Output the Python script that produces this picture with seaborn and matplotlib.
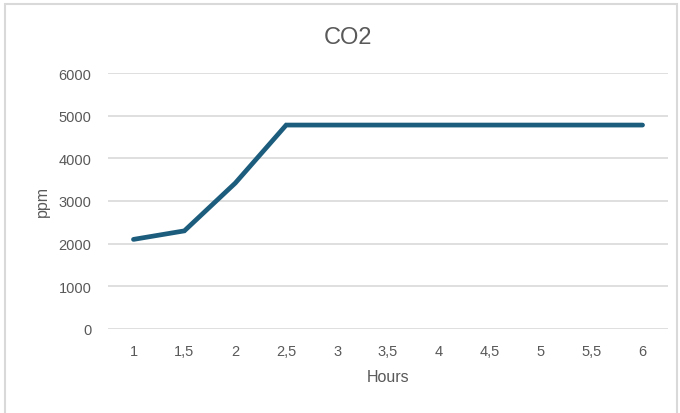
import seaborn as sns
import matplotlib.pyplot as plt
import pandas as pd
from matplotlib.patches import Rectangle

# Data
hours = ['1', '1,5', '2', '2,5', '3', '3,5', '4', '4,5', '5', '5,5', '6']
co2_ppm = [2100, 2300, 3420, 4780, 4780, 4780, 4780, 4780, 4780, 4780, 4780]
y_ticks = [0, 1000, 2000, 3000, 4000, 5000, 6000]

df = pd.DataFrame({'Hours': hours, 'ppm': co2_ppm})

sns.set_style('white')
plt.rcParams['font.family'] = ['Liberation Sans', 'DejaVu Sans']

text_col = '#595959'
fig = plt.figure(figsize=(6.8, 4.14), dpi=100)
ax = fig.add_axes([108 / 680, 1 - 330 / 414, 560 / 680, 256 / 414])

sns.lineplot(data=df, x='Hours', y='ppm', ax=ax, color='#1C5C7C', linewidth=3.4,
             sort=False, solid_joinstyle='miter')

ax.set_xlim(-0.5, len(hours) - 0.5)
ax.set_ylim(0, 6000)
ax.set_yticks(y_ticks)
ax.set_yticklabels([str(v) for v in y_ticks])
ax.grid(axis='y', color='#D9D9D9', linewidth=1.2)
ax.set_axisbelow(True)
for s in ax.spines.values():
    s.set_visible(False)
ax.tick_params(axis='both', length=0, labelsize=10.5, colors=text_col)
ax.tick_params(axis='x', pad=11)
ax.tick_params(axis='y', pad=12)
ax.set_xlabel('Hours', fontsize=11.5, color=text_col, labelpad=8)
ax.set_ylabel('ppm', fontsize=11.5, color=text_col, labelpad=6)

fig.text(348 / 680, 1 - 38 / 414, 'CO2', ha='center', va='center', fontsize=17, color=text_col)

# chart border
fig.patches.append(Rectangle((5 / 680, -0.01), 672 / 680, 1 - 5 / 414 + 0.01,
                             transform=fig.transFigure, fill=False,
                             edgecolor='#D9D9D9', linewidth=1.5))

fig.savefig('out.png', dpi=100)
